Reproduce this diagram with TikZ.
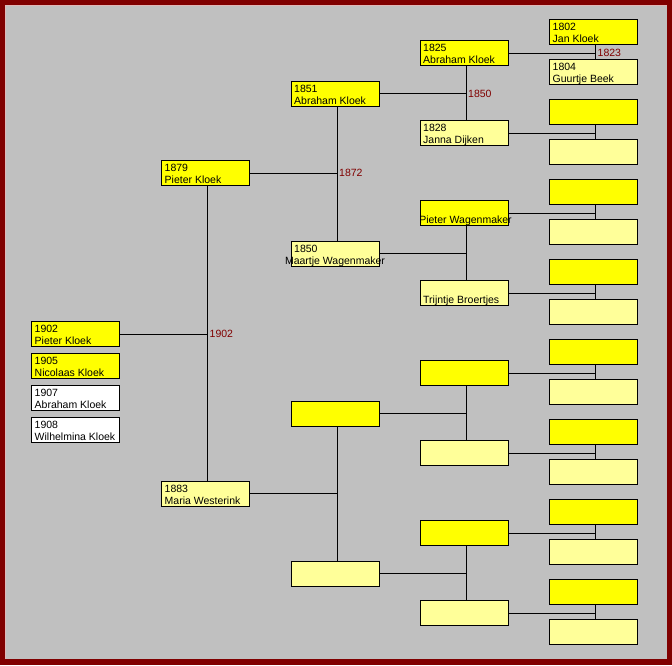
\documentclass[tikz,border=0pt]{standalone}
\usepackage{fontspec}
\setmainfont{Liberation Sans}
\definecolor{framecol}{HTML}{800000}
\definecolor{bgcol}{HTML}{C0C0C0}
\definecolor{bevelcol}{HTML}{E0B8B8}
\definecolor{malecol}{HTML}{FFFF00}
\definecolor{femalecol}{HTML}{FFFF99}
\definecolor{datecol}{HTML}{800000}
\tikzset{
  pbox/.style={draw=black, line width=1pt, rectangle, minimum width=88pt, minimum height=25pt, inner sep=0pt, outer sep=0pt, anchor=north west},
  ptext/.style={font=\fontsize{10.5}{12}\selectfont, inner sep=0pt, text=black},
  pdate/.style={font=\fontsize{10.5}{12}\selectfont, inner sep=0pt, text=datecol, anchor=base west},
  link/.style={line width=1pt, draw=black},
}
\begin{document}
\begin{tikzpicture}[x=1pt,y=-1pt]
\fill[framecol] (0,0) rectangle (672,665);
\fill[bgcol] (5,5) rectangle (667,659);
\draw[bevelcol, line width=1pt] (5.5,659) -- (5.5,5.5) -- (667,5.5);
\useasboundingbox (0,0) rectangle (672,665);

% column 4
\foreach \k in {0,...,15} {
  \pgfmathsetmacro\yy{19.5+40*\k}
  \ifodd\k \def\cc{femalecol}\else\def\cc{malecol}\fi
  \node[pbox, fill=\cc] (g4n\k) at (549.5,\yy) {};
}
% column 3
\foreach \k in {0,...,7} {
  \pgfmathsetmacro\yy{40.5+80*\k}
  \ifodd\k \def\cc{femalecol}\else\def\cc{malecol}\fi
  \node[pbox, fill=\cc] (g3n\k) at (420,\yy) {};
}
% column 2
\foreach \k in {0,...,3} {
  \pgfmathsetmacro\yy{81+160*\k}
  \ifodd\k \def\cc{femalecol}\else\def\cc{malecol}\fi
  \node[pbox, fill=\cc] (g2n\k) at (291,\yy) {};
}
% column 1
\node[pbox, fill=malecol] (g1n0) at (161.5,160.5) {};
\node[pbox, fill=femalecol] (g1n1) at (161.5,481) {};
% column 0 (children)
\node[pbox, fill=malecol] (g0n0) at (31.5,321.5) {};
\node[pbox, fill=malecol] (g0n1) at (31.5,353.5) {};
\node[pbox, fill=white] (g0n2) at (31.5,385.5) {};
\node[pbox, fill=white] (g0n3) at (31.5,417.5) {};

% links column 3 -> 4
\foreach \i in {0,...,7} {
  \pgfmathtruncatemacro\a{2*\i}
  \pgfmathtruncatemacro\b{2*\i+1}
  \coordinate (j4n\i) at ([xshift=2pt]g4n\a.south);
  \draw[link] (j4n\i) -- (j4n\i |- g4n\b.north);
  \coordinate (h4n\i) at (g3n\i.east -| j4n\i);
  \draw[link] (g3n\i.east) -- (h4n\i);
}
% links column 2 -> 3
\foreach \i in {0,...,3} {
  \pgfmathtruncatemacro\a{2*\i}
  \pgfmathtruncatemacro\b{2*\i+1}
  \coordinate (j3n\i) at ([xshift=2pt]g3n\a.south);
  \draw[link] (j3n\i) -- (j3n\i |- g3n\b.north);
  \coordinate (h3n\i) at (g2n\i.east -| j3n\i);
  \draw[link] (g2n\i.east) -- (h3n\i);
}
% links column 1 -> 2
\foreach \i in {0,1} {
  \pgfmathtruncatemacro\a{2*\i}
  \pgfmathtruncatemacro\b{2*\i+1}
  \coordinate (j2n\i) at ([xshift=2pt]g2n\a.south);
  \draw[link] (j2n\i) -- (j2n\i |- g2n\b.north);
  \coordinate (h2n\i) at (g1n\i.east -| j2n\i);
  \draw[link] (g1n\i.east) -- (h2n\i);
}
% link column 0 -> 1
\coordinate (j1n0) at ([xshift=2pt]g1n0.south);
\draw[link] (j1n0) -- (j1n0 |- g1n1.north);
\coordinate (h1n0) at (g0n0.east -| j1n0);
\draw[link] (g0n0.east) -- (h1n0);

% marriage dates
\node[pdate] (d4) at ([xshift=2pt,yshift=-3.5pt]h4n0) {1823};
\node[pdate] (d3) at ([xshift=2pt,yshift=-3.5pt]h3n0) {1850};
\node[pdate] (d2) at ([xshift=2pt,yshift=-3.5pt]h2n0) {1872};
\node[pdate] (d1) at ([xshift=2pt,yshift=-3.5pt]h1n0) {1902};

% texts
\node[ptext, anchor=base west] (t4a) at ([xshift=3pt,yshift=-11pt]g4n0.north west) {1802};
\node[ptext, anchor=base west] (t4b) at ([xshift=3pt,yshift=-23pt]g4n0.north west) {Jan Kloek};
\node[ptext, anchor=base west] (t4c) at ([xshift=3pt,yshift=-11pt]g4n1.north west) {1804};
\node[ptext, anchor=base west] (t4d) at ([xshift=3pt,yshift=-23pt]g4n1.north west) {Guurtje Beek};

\node[ptext, anchor=base west] (t3a) at ([xshift=3pt,yshift=-11pt]g3n0.north west) {1825};
\node[ptext, anchor=base west] (t3b) at ([xshift=3pt,yshift=-23pt]g3n0.north west) {Abraham Kloek};
\node[ptext, anchor=base west] (t3c) at ([xshift=3pt,yshift=-11pt]g3n1.north west) {1828};
\node[ptext, anchor=base west] (t3d) at ([xshift=3pt,yshift=-23pt]g3n1.north west) {Janna Dijken};
\node[ptext, anchor=base] (t3e) at ([xshift=1.5pt,yshift=-23pt]g3n2.north) {Pieter Wagenmaker};
\node[ptext, anchor=base west] (t3f) at ([xshift=3pt,yshift=-23pt]g3n3.north west) {Trijntje Broertjes};

\node[ptext, anchor=base west] (t2a) at ([xshift=3pt,yshift=-11pt]g2n0.north west) {1851};
\node[ptext, anchor=base west] (t2b) at ([xshift=3pt,yshift=-23pt]g2n0.north west) {Abraham Kloek};
\node[ptext, anchor=base west] (t2c) at ([xshift=3pt,yshift=-11pt]g2n1.north west) {1850};
\node[ptext, anchor=base] (t2d) at ([yshift=-23pt]g2n1.north) {Maartje Wagenmaker};

\node[ptext, anchor=base west] (t1a) at ([xshift=3pt,yshift=-11pt]g1n0.north west) {1879};
\node[ptext, anchor=base west] (t1b) at ([xshift=3pt,yshift=-23pt]g1n0.north west) {Pieter Kloek};
\node[ptext, anchor=base west] (t1c) at ([xshift=3pt,yshift=-11pt]g1n1.north west) {1883};
\node[ptext, anchor=base west] (t1d) at ([xshift=3pt,yshift=-23pt]g1n1.north west) {Maria Westerink};

\node[ptext, anchor=base west] (t0a) at ([xshift=3pt,yshift=-11pt]g0n0.north west) {1902};
\node[ptext, anchor=base west] (t0b) at ([xshift=3pt,yshift=-23pt]g0n0.north west) {Pieter Kloek};
\node[ptext, anchor=base west] (t0c) at ([xshift=3pt,yshift=-11pt]g0n1.north west) {1905};
\node[ptext, anchor=base west] (t0d) at ([xshift=3pt,yshift=-23pt]g0n1.north west) {Nicolaas Kloek};
\node[ptext, anchor=base west] (t0e) at ([xshift=3pt,yshift=-11pt]g0n2.north west) {1907};
\node[ptext, anchor=base west] (t0f) at ([xshift=3pt,yshift=-23pt]g0n2.north west) {Abraham Kloek};
\node[ptext, anchor=base west] (t0g) at ([xshift=3pt,yshift=-11pt]g0n3.north west) {1908};
\node[ptext, anchor=base west] (t0h) at ([xshift=3pt,yshift=-23pt]g0n3.north west) {Wilhelmina Kloek};
\end{tikzpicture}
\end{document}
